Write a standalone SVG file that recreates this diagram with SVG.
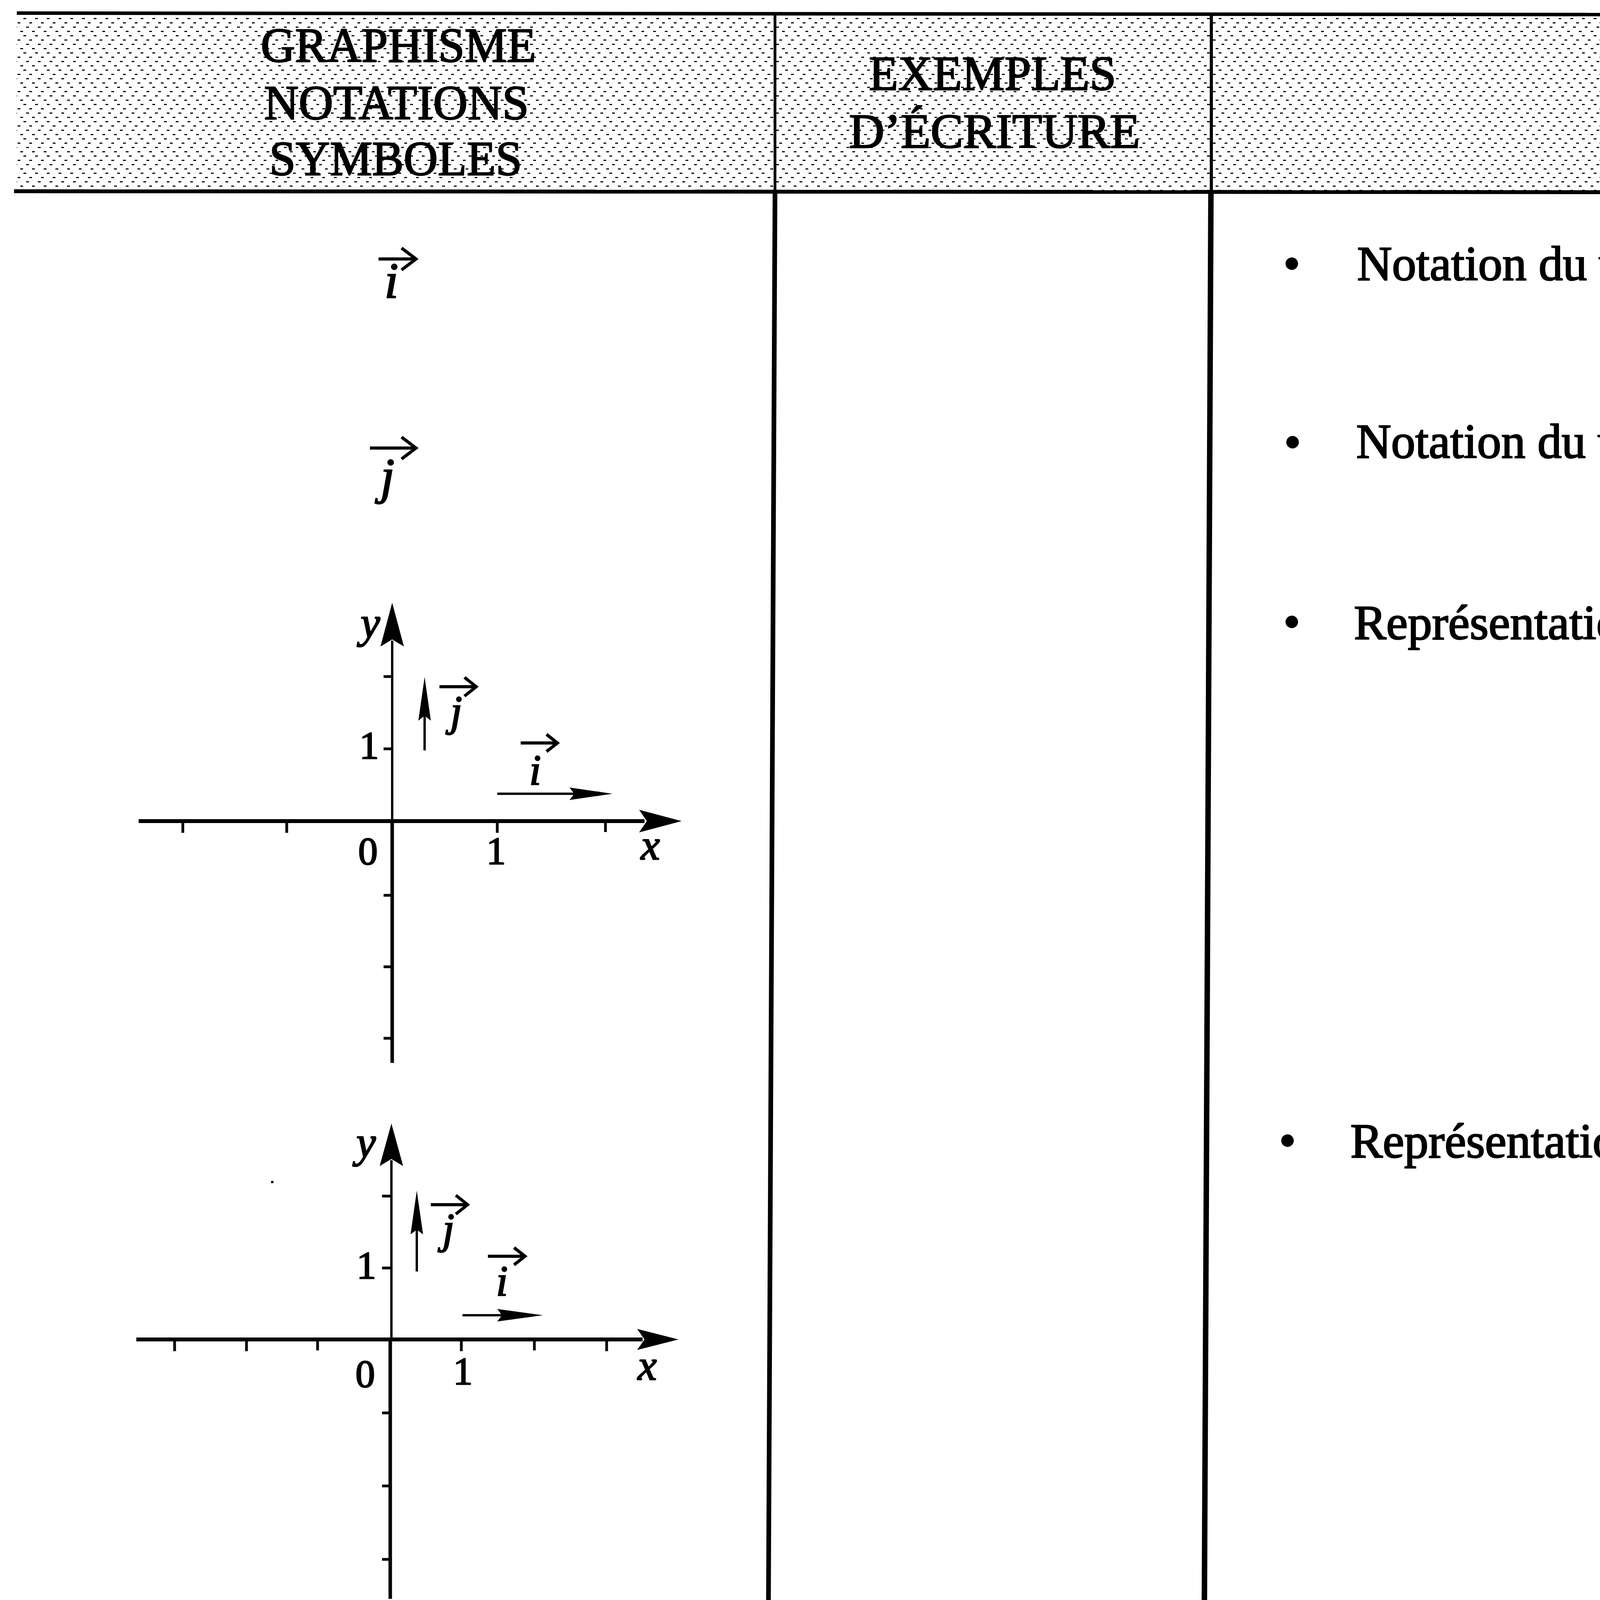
<svg xmlns="http://www.w3.org/2000/svg" width="6683" height="4798" viewBox="0 0 6683 4798">
<style>
.t{font-family:"Liberation Serif","Times New Roman",serif;fill:#000;stroke:#000;stroke-width:3}
.hd{font-size:125px}
.bd{font-size:124px}
.it{font-style:italic}
.ln{stroke:#000;fill:none;stroke-linecap:butt}
.vec{stroke:#000;fill:none;stroke-width:8;stroke-linejoin:miter}
.ax{fill:#000}
</style>
<defs>
<pattern id="dither" width="60" height="44" patternUnits="userSpaceOnUse">
<rect width="60" height="44" fill="#fff"/>
<rect x="0" y="2" width="7" height="3" fill="#000"/>
<rect x="30" y="2" width="7" height="3" fill="#000"/>
<rect x="15" y="13" width="7" height="3" fill="#000"/>
<rect x="45" y="13" width="7" height="3" fill="#000"/>
<rect x="7" y="24" width="7" height="3" fill="#000"/>
<rect x="37" y="24" width="7" height="3" fill="#000"/>
<rect x="22" y="35" width="7" height="3" fill="#000"/>
<rect x="52" y="35" width="7" height="3" fill="#000"/>
</pattern>
</defs>
<rect width="6683" height="4798" fill="#fff"/>

<g id="header">
<polygon points="43,34 6683,40 6683,493 43,489" fill="url(#dither)"/>
<line class="ln" x1="43" y1="33.5" x2="6683" y2="39.5" stroke-width="9"/>
<line class="ln" x1="36" y1="489.5" x2="6683" y2="493.5" stroke-width="10"/>
<line class="ln" x1="1984" y1="36" x2="1984" y2="490" stroke-width="7"/>
<line class="ln" x1="3101" y1="36" x2="3101" y2="490" stroke-width="8"/>
<text class="t hd" x="1020" y="158" text-anchor="middle" textLength="705" lengthAdjust="spacingAndGlyphs">GRAPHISME</text>
<text class="t hd" x="1015" y="305" text-anchor="middle" textLength="678" lengthAdjust="spacingAndGlyphs">NOTATIONS</text>
<text class="t hd" x="1013" y="448" text-anchor="middle" textLength="647" lengthAdjust="spacingAndGlyphs">SYMBOLES</text>
<text class="t hd" x="2541" y="230" text-anchor="middle" textLength="633" lengthAdjust="spacingAndGlyphs">EXEMPLES</text>
<text class="t hd" x="2546" y="378" text-anchor="middle" textLength="745" lengthAdjust="spacingAndGlyphs">D’ÉCRITURE</text>
<text class="t hd" x="4923" y="305" text-anchor="middle" textLength="970" lengthAdjust="spacingAndGlyphs">COMMENTAIRES</text>
</g>

<g id="grid">
<line class="ln" x1="1984" y1="490" x2="1964" y2="4798" stroke-width="12"/>
<line class="ln" x1="3100" y1="490" x2="3080" y2="4798" stroke-width="14"/>
</g>

<g id="row-i">
<path class="vec" d="M969,663 H1063 M1028,635 L1065,663 L1028,691"/>
<text class="t it" x="1002" y="762" font-size="130" text-anchor="middle">i</text>
</g>

<g id="row-j">
<path class="vec" d="M947,1147 H1063 M1028,1119 L1065,1147 L1028,1175"/>
<text class="t it" x="992" y="1262" font-size="130" text-anchor="middle">j</text>
</g>

<g id="frame-orthogonal">
<line class="ln" x1="355" y1="2102" x2="1650" y2="2102" stroke-width="10"/>
<polygon class="ax" points="1745,2102 1636,2073 1656,2102 1636,2131"/>
<path class="ln" stroke-width="7" d="M468,2102 V2132 M734,2102 V2132 M1273,2102 V2132 M1550,2102 V2130"/>
<line class="ln" x1="1004" y1="1640" x2="1004" y2="2102" stroke-width="6"/>
<line class="ln" x1="1004" y1="2102" x2="1004" y2="2721" stroke-width="9"/>
<polygon class="ax" points="1004,1543 974,1655 1004,1637 1034,1655"/>
<path class="ln" stroke-width="7" d="M982,1732 H1004 M982,1917 H1004 M982,2292 H1004 M982,2475 H1004 M982,2658 H1004"/>
<text class="t it" x="948" y="1632" font-size="112" text-anchor="middle">y</text>
<text class="t" x="945" y="1942" font-size="100" text-anchor="middle">1</text>
<text class="t" x="942" y="2212" font-size="100" text-anchor="middle">0</text>
<text class="t" x="1270" y="2212" font-size="100" text-anchor="middle">1</text>
<text class="t it" x="1665" y="2200" font-size="110" text-anchor="middle">x</text>
<line class="ln" x1="1087" y1="1921" x2="1087" y2="1800" stroke-width="6"/>
<polygon class="ax" points="1087,1733 1071,1845 1087,1832 1103,1845"/>
<path class="vec" stroke-width="7" d="M1125,1758 H1217 M1189,1734 L1219,1758 L1189,1782"/>
<text class="t it" x="1168" y="1858" font-size="110" text-anchor="middle">j</text>
<line class="ln" x1="1273" y1="2032" x2="1480" y2="2032" stroke-width="6"/>
<polygon class="ax" points="1568,2032 1458,2016 1470,2032 1458,2048"/>
<path class="vec" stroke-width="7" d="M1333,1902 H1425 M1399,1880 L1427,1902 L1399,1924"/>
<text class="t it" x="1370" y="2008" font-size="110" text-anchor="middle">i</text>
</g>

<g id="frame-orthonormal">
<line class="ln" x1="349" y1="3429" x2="1645" y2="3429" stroke-width="10"/>
<polygon class="ax" points="1737,3429 1631,3402 1650,3429 1631,3456"/>
<path class="ln" stroke-width="7" d="M447,3429 V3459 M631,3429 V3459 M813,3429 V3457 M1181,3429 V3459 M1368,3429 V3457 M1553,3429 V3459"/>
<line class="ln" x1="1002" y1="2970" x2="1002" y2="3429" stroke-width="6"/>
<line class="ln" x1="999" y1="3429" x2="999" y2="4093" stroke-width="9"/>
<polygon class="ax" points="1002,2876 972,2985 1002,2967 1032,2985"/>
<path class="ln" stroke-width="7" d="M978,3062 H1000 M978,3246 H1000 M978,3617 H1000 M978,3804 H1000 M978,3992 H1000"/>
<text class="t it" x="937" y="2962" font-size="112" text-anchor="middle">y</text>
<text class="t" x="938" y="3273" font-size="100" text-anchor="middle">1</text>
<text class="t" x="935" y="3550" font-size="100" text-anchor="middle">0</text>
<text class="t" x="1185" y="3544" font-size="100" text-anchor="middle">1</text>
<text class="t it" x="1657" y="3532" font-size="110" text-anchor="middle">x</text>
<line class="ln" x1="1067" y1="3255" x2="1067" y2="3130" stroke-width="6"/>
<polygon class="ax" points="1067,3048 1051,3160 1067,3148 1083,3160"/>
<path class="vec" stroke-width="7" d="M1103,3084 H1195 M1167,3060 L1197,3084 L1167,3108"/>
<text class="t it" x="1148" y="3183" font-size="110" text-anchor="middle">j</text>
<line class="ln" x1="1184" y1="3367" x2="1300" y2="3367" stroke-width="6"/>
<polygon class="ax" points="1390,3367 1273,3351 1285,3367 1273,3383"/>
<path class="vec" stroke-width="7" d="M1249,3216 H1342 M1316,3194 L1344,3216 L1316,3238"/>
<text class="t it" x="1285" y="3316" font-size="110" text-anchor="middle">i</text>
</g>

<g id="comments">
<circle cx="3307" cy="675" r="16"/>
<text class="t bd" x="3474" y="717" textLength="2520" lengthAdjust="spacingAndGlyphs">Notation du vecteur parallèle à l’axe des abscisses.</text>
<circle cx="3309" cy="1132" r="16"/>
<text class="t bd" x="3472" y="1172" textLength="2570" lengthAdjust="spacingAndGlyphs">Notation du vecteur parallèle à l’axe des ordonnées.</text>
<circle cx="3307" cy="1592" r="16"/>
<text class="t bd" x="3466" y="1636" textLength="2816" lengthAdjust="spacingAndGlyphs">Représentation d’un repère cartésien orthogonal du plan.</text>
<circle cx="3296" cy="2920" r="16"/>
<text class="t bd" x="3457" y="2963" textLength="2856" lengthAdjust="spacingAndGlyphs">Représentation d’un repère cartésien orthonormé du plan.</text>
</g>

<g id="specks">
<rect x="694" y="3023" width="6" height="6" fill="#000"/>
<rect x="4889" y="4719" width="8" height="6" fill="#000"/>
</g>
</svg>
